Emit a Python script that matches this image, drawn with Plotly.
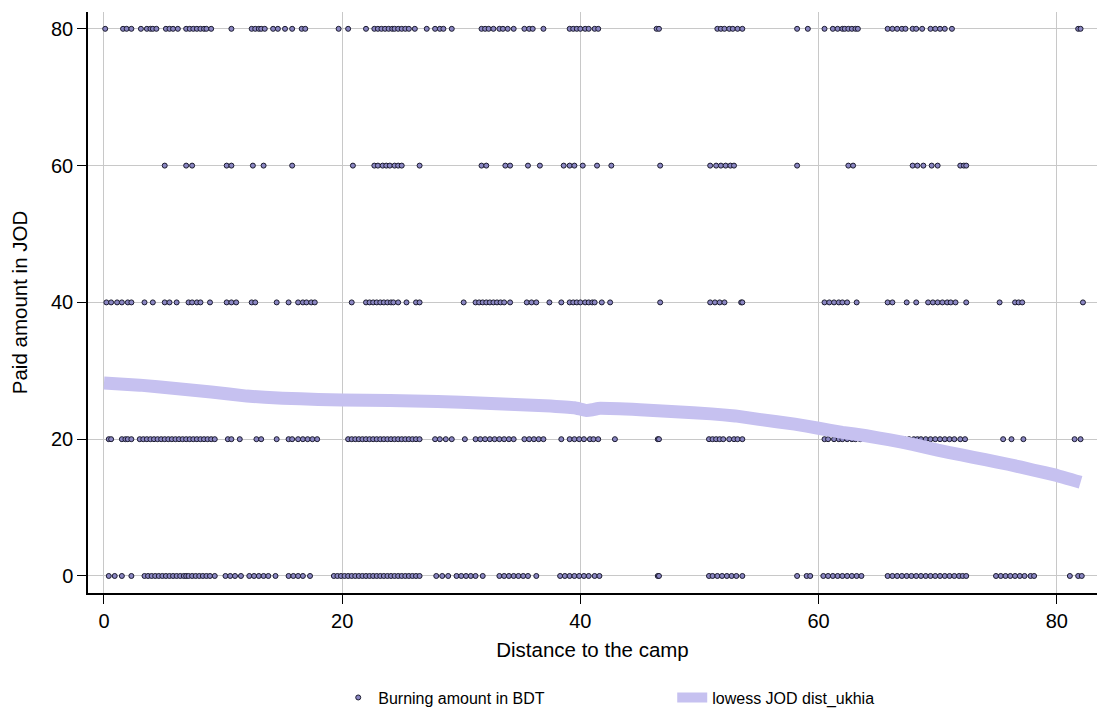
import plotly.graph_objects as go

# ---- data ----
row_levels = [80, 60, 40, 20, 0]

dist_80 = [0.1, 1.6, 1.9, 2.3, 3.1, 3.6, 3.9, 4.1, 4.4, 5.2, 5.5, 5.8, 6.2,
           6.9, 7.2, 7.5, 7.8, 8.1, 8.4, 8.6, 9.0, 10.7, 12.4, 12.7, 13.0, 13.2,
           13.5, 14.2, 14.6, 15.2, 15.8, 16.6, 16.9, 19.7, 20.5, 22.0, 22.7, 23.0,
           23.3, 23.6, 23.9, 24.2, 24.4, 24.7, 25.0, 25.3, 25.6, 26.1, 27.1, 27.8,
           28.2, 28.5, 29.2, 31.7, 32.0, 32.3, 32.7, 33.2, 33.5, 33.9, 34.4, 35.3,
           35.7, 36.0, 36.9, 39.1, 39.4, 39.7, 40.0, 40.4, 40.7, 41.2, 41.5, 46.4,
           46.6, 51.5, 51.8, 52.1, 52.5, 52.8, 53.2, 53.6, 58.2, 59.1, 60.5, 61.2,
           61.6, 62.0, 62.2, 62.5, 62.8, 63.1, 63.3, 65.8, 66.2, 66.6, 67.0, 67.3,
           67.9, 68.2, 68.7, 69.4, 69.8, 70.2, 70.6, 71.2, 81.8, 82.0]

dist_60 = [5.1, 6.9, 7.4, 10.3, 10.7, 12.5, 13.4, 15.8, 20.9, 22.7, 23.0, 23.4,
           23.7, 24.0, 24.4, 24.7, 25.0, 26.5, 31.7, 32.1, 33.7, 34.1, 35.6, 36.6,
           38.6, 39.1, 39.5, 40.2, 41.4, 42.6, 46.7, 50.9, 51.4, 51.8, 52.2, 52.6,
           52.9, 58.2, 62.5, 62.9, 67.9, 68.3, 68.8, 69.5, 70.0, 71.9, 72.2, 72.4]

dist_40 = [0.2, 0.6, 1.1, 1.5, 2.0, 2.3, 3.4, 4.1, 5.1, 5.5, 6.1, 7.1, 7.4, 7.8,
           8.1, 8.9, 10.3, 10.7, 11.1, 12.4, 12.7, 14.5, 15.5, 16.3, 16.7, 17.0,
           17.4, 17.7, 20.8, 22.0, 22.3, 22.6, 22.9, 23.2, 23.5, 23.8, 24.1, 24.3,
           24.7, 25.4, 26.2, 26.5, 30.2, 31.2, 31.5, 31.8, 32.1, 32.4, 32.7, 33.0,
           33.3, 33.6, 34.1, 35.5, 35.9, 36.3, 37.4, 38.4, 39.1, 39.4, 39.7, 40.0,
           40.4, 40.7, 41.0, 41.2, 41.8, 42.5, 46.7, 50.9, 51.3, 51.7, 52.1, 53.5,
           53.6, 60.5, 60.9, 61.3, 61.7, 62.0, 62.4, 63.2, 65.8, 66.2, 67.4, 68.2,
           69.2, 69.6, 70.0, 70.4, 70.8, 71.1, 71.5, 72.4, 75.2, 76.5, 76.8, 77.1,
           82.2]

dist_20 = [0.4, 0.6, 1.5, 1.8, 2.0, 2.3, 3.0, 3.3, 3.6, 3.9, 4.2, 4.5, 4.8, 5.1,
           5.4, 5.7, 6.0, 6.3, 6.6, 6.9, 7.2, 7.5, 7.8, 8.1, 8.4, 8.7, 9.0, 9.3,
           10.4, 10.7, 11.4, 12.8, 13.2, 14.5, 15.5, 15.8, 16.3, 16.7, 17.1, 17.5,
           17.9, 20.5, 20.8, 21.1, 21.4, 21.7, 22.0, 22.3, 22.6, 22.9, 23.2, 23.5,
           23.8, 24.1, 24.4, 24.7, 25.0, 25.3, 25.6, 25.9, 26.2, 26.5, 27.8, 28.2,
           28.7, 29.2, 30.3, 31.2, 31.6, 32.0, 32.4, 32.8, 33.2, 33.6, 34.0, 34.4,
           35.3, 35.7, 36.1, 36.5, 36.9, 38.4, 39.1, 39.5, 39.9, 40.3, 40.8, 41.1,
           41.5, 42.9, 46.5, 46.6, 50.8, 51.1, 51.4, 51.7, 52.0, 52.5, 52.9, 53.2,
           53.6, 60.5, 60.8, 61.3, 61.7, 62.0, 62.4, 62.8, 63.1, 63.5, 66.5, 66.9,
           67.2, 67.6, 68.0, 68.3, 68.6, 69.0, 69.4, 69.8, 70.2, 70.6, 71.0, 71.4,
           71.9, 72.3, 75.5, 76.2, 77.2, 81.5, 82.0]

dist_0 = [0.4, 0.9, 1.5, 2.3, 3.4, 3.7, 4.0, 4.3, 4.6, 4.9, 5.2, 5.5, 5.8, 6.1,
          6.4, 6.7, 6.9, 7.1, 7.4, 7.7, 8.0, 8.3, 8.6, 8.9, 9.3, 10.2, 10.6, 11.0,
          11.5, 12.2, 12.6, 13.0, 13.4, 13.8, 14.4, 15.5, 15.9, 16.3, 16.7, 17.3,
          19.3, 19.6, 19.9, 20.2, 20.5, 20.8, 21.1, 21.4, 21.7, 22.0, 22.3, 22.6,
          22.9, 23.2, 23.5, 23.8, 24.1, 24.4, 24.7, 25.0, 25.3, 25.6, 25.9, 26.2,
          26.5, 27.9, 28.4, 28.9, 29.6, 30.0, 30.4, 30.8, 31.2, 31.8, 33.2, 33.6,
          34.0, 34.4, 34.8, 35.2, 35.6, 36.3, 38.3, 38.7, 39.1, 39.5, 39.9, 40.3,
          40.7, 41.2, 41.6, 46.5, 46.6, 50.8, 51.1, 51.5, 51.9, 52.3, 52.7, 53.1,
          53.6, 58.2, 59.0, 59.3, 60.4, 60.8, 61.2, 61.6, 62.0, 62.4, 62.8, 63.2,
          63.6, 65.8, 66.2, 66.6, 67.0, 67.4, 67.8, 68.2, 68.6, 69.0, 69.4, 69.8,
          70.2, 70.6, 71.0, 71.4, 71.8, 72.1, 72.4, 74.9, 75.3, 75.7, 76.1, 76.5,
          76.9, 77.3, 77.8, 78.1, 81.1, 81.8, 82.1]

lowess_x = [0, 3, 6, 9, 12, 15, 18, 22, 26, 30, 34, 37, 39.5, 40.5, 41.0, 41.5,
            45, 48, 51, 53, 55, 58, 60, 62, 64, 66, 68, 70, 72, 74, 76, 78, 80, 82]
lowess_y = [28.2, 27.9, 27.4, 26.9, 26.3, 26.0, 25.8, 25.7, 25.6, 25.4, 25.1,
            24.9, 24.6, 24.2, 24.3, 24.5, 24.3, 24.0, 23.7, 23.4, 22.9, 22.2,
            21.6, 21.0, 20.5, 19.9, 19.2, 18.4, 17.7, 17.0, 16.3, 15.5, 14.7, 13.7]

x_ticks = [0, 20, 40, 60, 80]
y_ticks = [0, 20, 40, 60, 80]

# ---- build scatter arrays ----
rows = [dist_80, dist_60, dist_40, dist_20, dist_0]
sx, sy = [], []
for lvl, xs in zip(row_levels, rows):
    sx.extend(xs)
    sy.extend([lvl] * len(xs))

FONT = "Arial, 'Liberation Sans', Helvetica, sans-serif"

fig = go.Figure()
fig.add_trace(go.Scatter(
    x=sx, y=sy, mode="markers", name="Burning amount in BDT",
    marker=dict(size=5, color="#8a86c2", line=dict(color="#1a1a2e", width=1)),
))
fig.add_trace(go.Scatter(
    x=lowess_x, y=lowess_y, mode="lines", name="lowess JOD dist_ukhia",
    line=dict(color="#c6c1f0", width=13, shape="spline", smoothing=0.3),
))

fig.update_layout(
    width=1097, height=711,
    margin=dict(l=88, r=0, t=12, b=118, autoexpand=False),
    plot_bgcolor="white", paper_bgcolor="white",
    font=dict(family=FONT, color="#000000"),
    showlegend=True,
    legend=dict(orientation="h", x=0.248, xanchor="left", y=-0.18, yanchor="middle",
                font=dict(size=16), entrywidth=289, entrywidthmode="pixels"),
)
fig.update_xaxes(
    range=[-1.343, 83.38], tickvals=x_ticks, ticktext=[str(v) for v in x_ticks],
    showgrid=True, gridcolor="#c8c8c8", gridwidth=1, zeroline=False,
    showline=True, linecolor="#000000", linewidth=1.5,
    ticks="outside", ticklen=9, tickcolor="#000000", tickwidth=1.2,
    tickfont=dict(size=20), title=dict(text="Distance to the camp", font=dict(size=20.5), standoff=12),
)
fig.update_yaxes(
    range=[-2.49, 82.46], tickvals=y_ticks, ticktext=[str(v) for v in y_ticks],
    showgrid=True, gridcolor="#c8c8c8", gridwidth=1, zeroline=False,
    showline=True, linecolor="#000000", linewidth=1.5,
    ticks="outside", ticklen=9, tickcolor="#000000", tickwidth=1.2,
    tickfont=dict(size=20), title=dict(text="Paid amount in JOD", font=dict(size=20.5), standoff=18),
)

fig.write_html("out.html")
